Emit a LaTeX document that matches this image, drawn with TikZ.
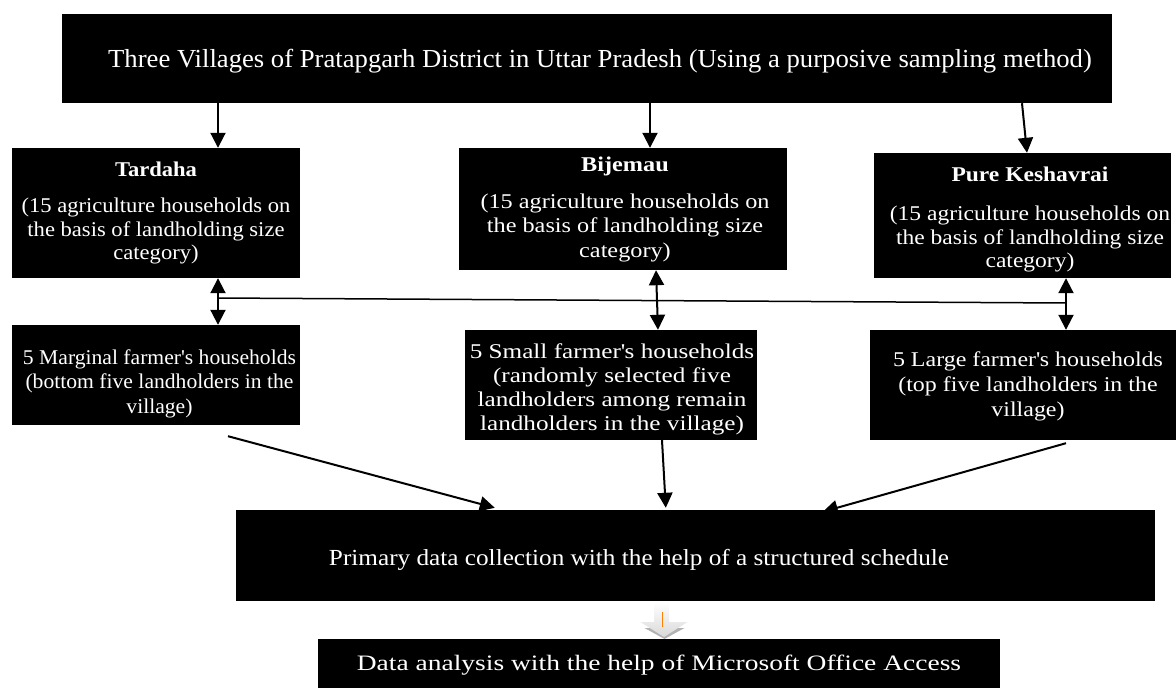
\documentclass[tikz,border=0pt]{standalone}
\usepackage{fontspec}
\setmainfont{Liberation Serif}
\usetikzlibrary{arrows.meta,calc}
\newcommand\myfs[3]{\fontsize{#1}{#2}\selectfont\addfontfeature{FakeStretch=#3}}
\newcommand\ap{\textquotesingle}
\begin{document}
\begin{tikzpicture}[x=1pt,y=-1pt,
  box/.style={rectangle,fill=black,inner sep=0pt},
  txt/.style={text=white,inner sep=0pt,align=center},
  arr/.style={line width=2pt,-{Triangle[width=15pt,length=15pt]}},
  darr/.style={line width=2pt,{Triangle[width=15pt,length=15pt]}-{Triangle[width=15pt,length=15pt]}},
  link/.style={line width=1.5pt}]
\useasboundingbox (0,0) rectangle (1176,688);
% boxes
\node[box,minimum width=1050pt,minimum height=89pt] (top) at (587,58.5) {};
\node[box,minimum width=288pt,minimum height=130pt] (tard) at (156,213) {};
\node[box,minimum width=328pt,minimum height=122pt] (bij) at (623,209) {};
\node[box,minimum width=297pt,minimum height=125pt] (pure) at (1022.5,215.5) {};
\node[box,minimum width=288pt,minimum height=100pt] (marg) at (156,375) {};
\node[box,minimum width=292pt,minimum height=110pt] (small) at (611,385) {};
\node[box,minimum width=306pt,minimum height=110pt] (large) at (1023,385) {};
\node[box,minimum width=919pt,minimum height=91pt] (prim) at (695.5,555.5) {};
\node[box,minimum width=682pt,minimum height=49pt] (data) at (659,663.5) {};
% texts
\node[txt,font=\myfs{26}{30}{1.026}] (topT) at (600,61)
  {Three Villages of Pratapgarh District in Uttar Pradesh (Using a purposive sampling method)};
\node[txt,font=\myfs{21}{23.5}{1.075}] (tardT) at (156,213)
  {\textbf{Tardaha}\\[13pt](15 agriculture households on\\the basis of landholding size\\category)};
\node[txt,font=\myfs{21}{24.5}{1.155}] (bijT) at (625,209.5)
  {\textbf{Bijemau}\\[12pt](15 agriculture households on\\the basis of landholding size\\category)};
\node[txt,font=\myfs{21}{23.5}{1.12}] (pureT) at (1030,219.5)
  {\textbf{Pure Keshavrai}\\[16pt](15 agriculture households on\\the basis of landholding size\\category)};
\node[txt,font=\myfs{21}{24.5}{1.03}] (margT) at (159.5,383.5)
  {5 Marginal farmer\ap s households\\(bottom five landholders in the\\village)};
\node[txt,font=\myfs{21}{24}{1.2}] (smallT) at (612,389)
  {5 Small farmer\ap s households\\(randomly selected five\\landholders among remain\\landholders in the village)};
\node[txt,font=\myfs{21}{25}{1.14}] (largeT) at (1028,386)
  {5 Large farmer\ap s households\\(top five landholders in the\\village)};
\node[txt,font=\myfs{23}{27}{1.097}] (primT) at (639,560)
  {Primary data collection with the help of a structured schedule};
\node[txt,font=\myfs{22}{26}{1.25}] (dataT) at (659,665)
  {Data analysis with the help of Microsoft Office Access};
% top arrows
\coordinate (xa) at (218,0);
\coordinate (xb) at (650,0);
\coordinate (xc) at (1025,0);
\draw[arr] (top.south -| xa) -- (tard.north -| xa);
\draw[arr] (top.south -| xb) -- (bij.north -| xb);
\draw[arr] ($(top.south -| xc)+(-3,0)$) -- ($(pure.north -| xc)+(2,0)$);
% double arrows
\coordinate (da) at (218,0);
\coordinate (db) at (657,0);
\coordinate (dc) at (1066,0);
\draw[darr] (tard.south -| da) -- (marg.north -| da);
\draw[darr] ($(bij.south -| db)+(-1,0)$) -- ($(small.north -| db)+(1,0)$);
\draw[darr] (pure.south -| dc) -- (large.north -| dc);
\coordinate (h1) at (218,298);
\coordinate (h2) at (1066,303);
\draw[link] (h1) -- (h2);
% arrows to primary
\draw[arr] ($(marg.south)+(72,11)$) -- ($(prim.north west)+(259,-2)$);
\draw[arr] ($(small.south)+(51,0)$) -- ($(prim.north west)+(430,-2)$);
\draw[arr] ($(large.south)+(43,3)$) -- ($(prim.north west)+(587,2)$);
% block arrow
\coordinate (ba) at (661.5,602);
\fill[gray!60] ($(ba)+(-17,26)$) -- ($(ba)+(23,26)$) -- ($(ba)+(3,37)$) -- cycle;
\shade[top color=white,bottom color=gray!30] ($(ba)+(-7.5,0)$) -- ($(ba)+(7.5,0)$) -- ($(ba)+(7.5,20)$) -- ($(ba)+(26,20)$)
  -- ($(ba)+(2.5,35)$) -- ($(ba)+(-21,20)$) -- ($(ba)+(-7.5,20)$) -- cycle;
\draw[orange,line width=1pt] ($(ba)+(0.5,10)$) -- ($(ba)+(0.5,25)$);
\end{tikzpicture}
\end{document}
